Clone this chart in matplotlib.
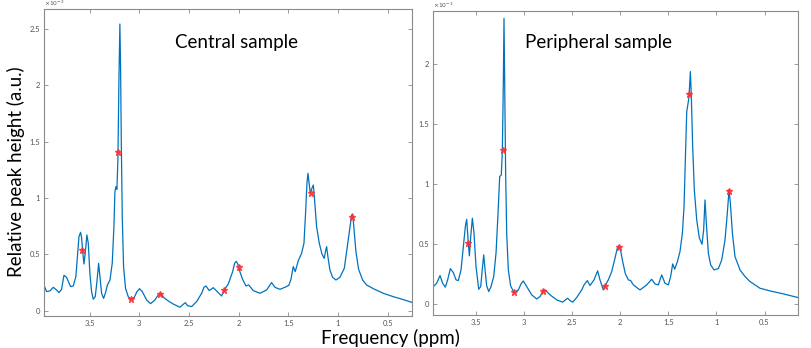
import matplotlib
matplotlib.use("Agg")
import matplotlib.pyplot as plt
from matplotlib.ticker import FormatStrFormatter, MultipleLocator

plt.rcParams["font.family"] = ["Lato", "DejaVu Sans"]

# spectrum: chemical shift (ppm) and relative height (x 1e-3)
central_ppm = [
    3.956, 3.933, 3.899, 3.866, 3.839, 3.809, 3.782, 3.758, 3.732, 3.691,
    3.664, 3.638, 3.621, 3.607, 3.591, 3.581, 3.570, 3.557, 3.544, 3.527,
    3.513, 3.497, 3.480, 3.463, 3.443, 3.426, 3.409, 3.396, 3.379, 3.359,
    3.339, 3.322, 3.295, 3.272, 3.255, 3.245, 3.235, 3.225, 3.215, 3.205,
    3.195, 3.188, 3.181, 3.171, 3.158, 3.138, 3.111, 3.084, 3.050, 3.023,
    2.997, 2.970, 2.926, 2.886, 2.842, 2.809, 2.785, 2.752, 2.708, 2.658,
    2.591, 2.557, 2.537, 2.513, 2.473, 2.423, 2.372, 2.349, 2.329, 2.295,
    2.255, 2.215, 2.171, 2.144, 2.104, 2.060, 2.040, 2.023, 2.007, 1.987,
    1.960, 1.926, 1.899, 1.852, 1.785, 1.718, 1.691, 1.668, 1.634, 1.584,
    1.534, 1.494, 1.473, 1.450, 1.430, 1.399, 1.366, 1.342, 1.326, 1.312,
    1.302, 1.292, 1.279, 1.262, 1.248, 1.235, 1.215, 1.188, 1.161, 1.138,
    1.124, 1.114, 1.101, 1.081, 1.054, 1.020, 0.980, 0.936, 0.906, 0.879,
    0.862, 0.852, 0.839, 0.819, 0.792, 0.752, 0.711, 0.644, 0.544, 0.443,
    0.342, 0.258,
]
central_val = [
    0.219, 0.169, 0.175, 0.207, 0.189, 0.160, 0.189, 0.314, 0.296, 0.213,
    0.219, 0.302, 0.494, 0.657, 0.695, 0.651, 0.533, 0.414, 0.509, 0.672,
    0.598, 0.331, 0.169, 0.101, 0.124, 0.257, 0.420, 0.302, 0.154, 0.109,
    0.160, 0.225, 0.272, 0.420, 0.746, 1.056, 1.101, 1.077, 1.337, 2.018,
    2.544, 2.166, 1.515, 0.834, 0.391, 0.198, 0.124, 0.101, 0.118, 0.169,
    0.195, 0.169, 0.095, 0.062, 0.095, 0.139, 0.154, 0.115, 0.086, 0.059,
    0.030, 0.056, 0.071, 0.044, 0.036, 0.080, 0.154, 0.207, 0.219, 0.178,
    0.204, 0.169, 0.130, 0.183, 0.237, 0.346, 0.420, 0.438, 0.411, 0.346,
    0.278, 0.219, 0.228, 0.178, 0.154, 0.183, 0.219, 0.249, 0.207, 0.189,
    0.207, 0.225, 0.278, 0.391, 0.346, 0.444, 0.509, 0.598, 0.864, 1.130,
    1.219, 1.145, 1.047, 1.086, 1.115, 0.982, 0.746, 0.598, 0.503, 0.464,
    0.533, 0.568, 0.479, 0.361, 0.296, 0.272, 0.296, 0.376, 0.568, 0.746,
    0.849, 0.858, 0.731, 0.524, 0.367, 0.272, 0.228, 0.195, 0.154, 0.124,
    0.098, 0.074,
]
central_mark_ppm = [3.574, 3.211, 3.087, 2.795, 2.148, 2.000, 1.275, 0.859]
central_mark_val = [0.536, 1.408, 0.104, 0.145, 0.183, 0.390, 1.041, 0.834]

peripheral_ppm = [
    3.944, 3.909, 3.874, 3.847, 3.819, 3.795, 3.767, 3.736, 3.708, 3.684,
    3.656, 3.632, 3.611, 3.597, 3.587, 3.580, 3.569, 3.555, 3.538, 3.521,
    3.500, 3.472, 3.451, 3.434, 3.420, 3.406, 3.389, 3.368, 3.344, 3.316,
    3.292, 3.271, 3.254, 3.237, 3.226, 3.216, 3.209, 3.202, 3.192, 3.181,
    3.164, 3.140, 3.105, 3.060, 3.032, 3.008, 2.973, 2.921, 2.869, 2.834,
    2.807, 2.782, 2.730, 2.661, 2.599, 2.571, 2.547, 2.523, 2.495, 2.453,
    2.401, 2.377, 2.342, 2.315, 2.273, 2.235, 2.211, 2.176, 2.159, 2.124,
    2.089, 2.055, 2.031, 2.013, 1.996, 1.975, 1.947, 1.916, 1.892, 1.864,
    1.795, 1.725, 1.673, 1.639, 1.604, 1.587, 1.569, 1.535, 1.500, 1.476,
    1.455, 1.434, 1.406, 1.379, 1.354, 1.337, 1.323, 1.309, 1.296, 1.285,
    1.271, 1.261, 1.247, 1.230, 1.205, 1.178, 1.150, 1.133, 1.119, 1.105,
    1.084, 1.060, 1.025, 0.980, 0.945, 0.911, 0.887, 0.869, 0.855, 0.834,
    0.807, 0.755, 0.703, 0.651, 0.547, 0.443, 0.304, 0.155,
]
peripheral_val = [
    0.147, 0.175, 0.239, 0.175, 0.142, 0.203, 0.297, 0.264, 0.203, 0.197,
    0.286, 0.481, 0.647, 0.708, 0.592, 0.508, 0.403, 0.564, 0.717, 0.592,
    0.314, 0.125, 0.147, 0.300, 0.411, 0.286, 0.153, 0.106, 0.147, 0.231,
    0.425, 0.758, 1.064, 1.078, 1.286, 1.842, 2.383, 1.842, 1.092, 0.592,
    0.286, 0.153, 0.097, 0.119, 0.169, 0.194, 0.147, 0.078, 0.044, 0.064,
    0.106, 0.119, 0.078, 0.036, 0.017, 0.036, 0.050, 0.031, 0.017, 0.056,
    0.119, 0.161, 0.197, 0.156, 0.203, 0.278, 0.203, 0.119, 0.153, 0.203,
    0.272, 0.383, 0.467, 0.486, 0.447, 0.356, 0.253, 0.203, 0.197, 0.161,
    0.119, 0.161, 0.208, 0.169, 0.161, 0.203, 0.244, 0.175, 0.161, 0.231,
    0.336, 0.292, 0.356, 0.439, 0.592, 0.814, 1.203, 1.606, 1.669, 1.731,
    1.939, 1.731, 1.314, 0.953, 0.703, 0.553, 0.500, 0.619, 0.869, 0.675,
    0.425, 0.328, 0.286, 0.297, 0.369, 0.536, 0.758, 0.953, 0.842, 0.592,
    0.397, 0.286, 0.231, 0.189, 0.133, 0.111, 0.086, 0.056,
]
peripheral_mark_ppm = [3.580, 3.223, 3.101, 2.807, 2.159, 2.010, 1.285, 0.869]
peripheral_mark_val = [0.508, 1.286, 0.100, 0.106, 0.153, 0.478, 1.756, 0.944]

LINE = "#0072BD"
MARK = "#ff3030"
BOX = "#8a8a8a"
TICKTXT = "#555555"


def style_axes(ax, xlim, ylim, yticks_step):
    ax.set_xlim(*xlim)
    ax.set_ylim(*ylim)
    ax.xaxis.set_major_locator(MultipleLocator(0.5))
    ax.yaxis.set_major_locator(MultipleLocator(yticks_step))
    ax.xaxis.set_major_formatter(FormatStrFormatter("%g"))
    ax.yaxis.set_major_formatter(FormatStrFormatter("%g"))
    ax.tick_params(direction="in", length=3, width=0.6, colors=BOX,
                   labelcolor=TICKTXT, labelsize=5.5, top=True, right=True, pad=3)
    for s in ax.spines.values():
        s.set_color(BOX)
        s.set_linewidth(0.8)
    ax.text(0.0, 1.003, r"$\times10^{-3}$", transform=ax.transAxes,
            fontsize=4.3, color=TICKTXT, ha="left", va="bottom")


fig = plt.figure(figsize=(8.11, 3.48), dpi=100)
ax_c = fig.add_axes([0.0546, 0.0928, 0.4530, 0.8805])
ax_p = fig.add_axes([0.5343, 0.0948, 0.4493, 0.8745])

ax_c.plot(central_ppm, central_val, color=LINE, lw=0.9)
ax_c.plot(central_mark_ppm, central_mark_val, ls="none", marker="*",
          ms=4.5, color=MARK, alpha=0.85)
style_axes(ax_c, (3.956, 0.258), (-0.045, 2.675), 0.5)

ax_p.plot(peripheral_ppm, peripheral_val, color=LINE, lw=0.9)
ax_p.plot(peripheral_mark_ppm, peripheral_mark_val, ls="none", marker="*",
          ms=4.5, color=MARK, alpha=0.85)
style_axes(ax_p, (3.944, 0.155), (-0.09, 2.447), 0.5)

fig.text(0.2919, 0.879, "Central sample", fontsize=13.5, ha="center", va="center")
fig.text(0.7377, 0.879, "Peripheral sample", fontsize=13.5, ha="center", va="center")
fig.text(0.0197, 0.5066, "Relative peak height (a.u.)", fontsize=13.5,
         rotation=90, ha="center", va="center")
fig.text(0.481, 0.028, "Frequency (ppm)", fontsize=13.5, ha="center", va="center")

fig.savefig("out.png", dpi=100)
